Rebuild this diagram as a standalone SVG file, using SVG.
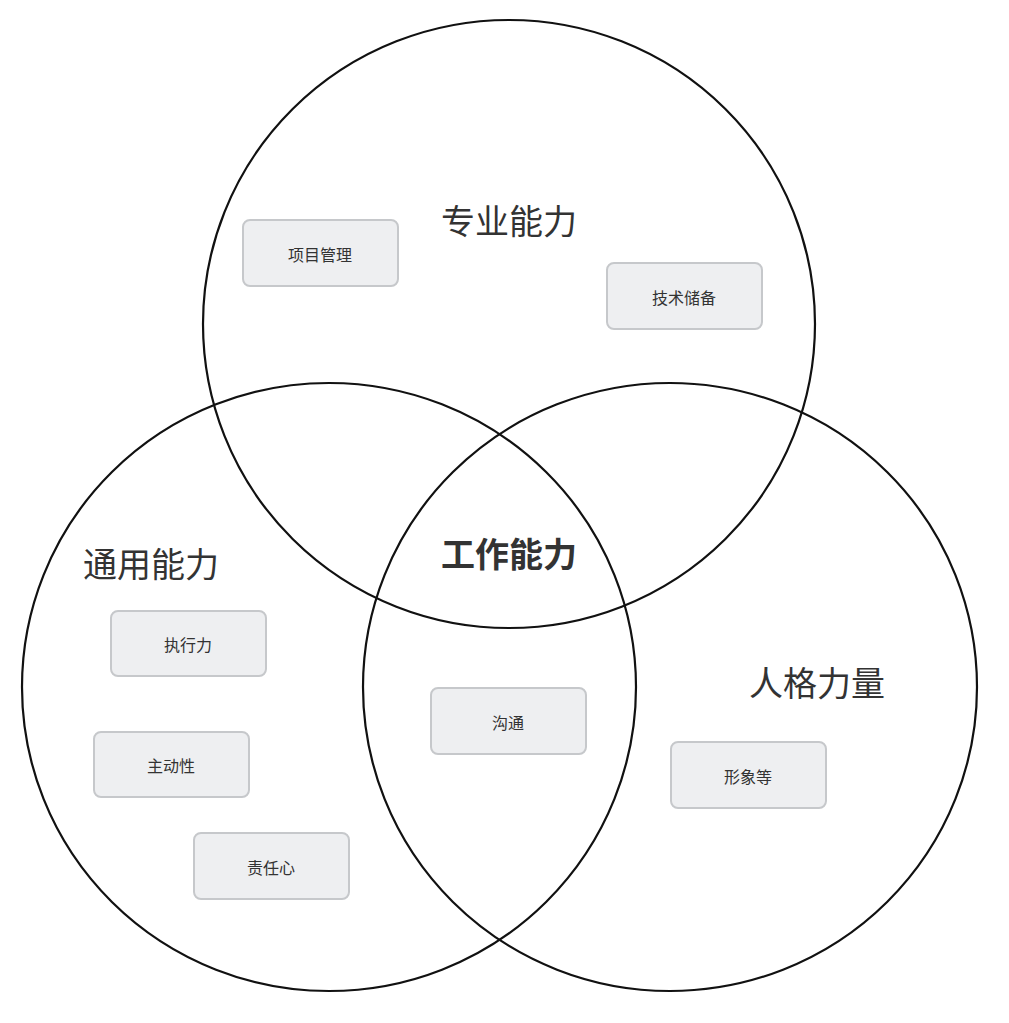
<svg xmlns="http://www.w3.org/2000/svg" width="1009" height="1023" viewBox="0 0 1009 1023">
<style>
.c{fill:none;stroke:#111;stroke-width:2.2}
.b{fill:#eeeff1;stroke:#c6c8cb;stroke-width:2}
.t{font-family:"Noto Sans CJK SC","Noto Sans",sans-serif;font-size:16px;fill:#333;text-anchor:middle;dominant-baseline:central}
.L{font-family:"Noto Sans CJK SC","Noto Sans",sans-serif;font-size:34px;fill:#333;text-anchor:middle;dominant-baseline:central}
</style>
<rect width="1009" height="1023" fill="#fff"/>
<g id="connectors"></g>
<g id="circle-top"><ellipse class="c" cx="509" cy="324" rx="306" ry="304"/></g>
<g id="circle-left"><ellipse class="c" cx="329" cy="687" rx="307" ry="304"/></g>
<g id="circle-right"><ellipse class="c" cx="670" cy="687" rx="307" ry="304"/></g>
<g id="label-zhuanye"><text class="L" x="509" y="219">专业能力</text></g>
<g id="label-tongyong"><text class="L" x="151" y="562">通用能力</text></g>
<g id="label-gongzuo"><text class="L" x="509" y="552" font-weight="bold">工作能力</text></g>
<g id="label-renge"><text class="L" x="817" y="681">人格力量</text></g>
<g id="box-xiangmu"><rect class="b" x="243" y="220" width="155" height="66" rx="7"/><text class="t" x="320" y="254">项目管理</text></g>
<g id="box-jishu"><rect class="b" x="607" y="263" width="155" height="66" rx="7"/><text class="t" x="684" y="297">技术储备</text></g>
<g id="box-zhixing"><rect class="b" x="111" y="611" width="155" height="65" rx="7"/><text class="t" x="188" y="644">执行力</text></g>
<g id="box-zhudong"><rect class="b" x="94" y="732" width="155" height="65" rx="7"/><text class="t" x="171" y="765">主动性</text></g>
<g id="box-zeren"><rect class="b" x="194" y="833" width="155" height="66" rx="7"/><text class="t" x="271" y="867">责任心</text></g>
<g id="box-goutong"><rect class="b" x="431" y="688" width="155" height="66" rx="7"/><text class="t" x="508" y="722">沟通</text></g>
<g id="box-xingxiang"><rect class="b" x="671" y="742" width="155" height="66" rx="7"/><text class="t" x="748" y="776">形象等</text></g>
</svg>
